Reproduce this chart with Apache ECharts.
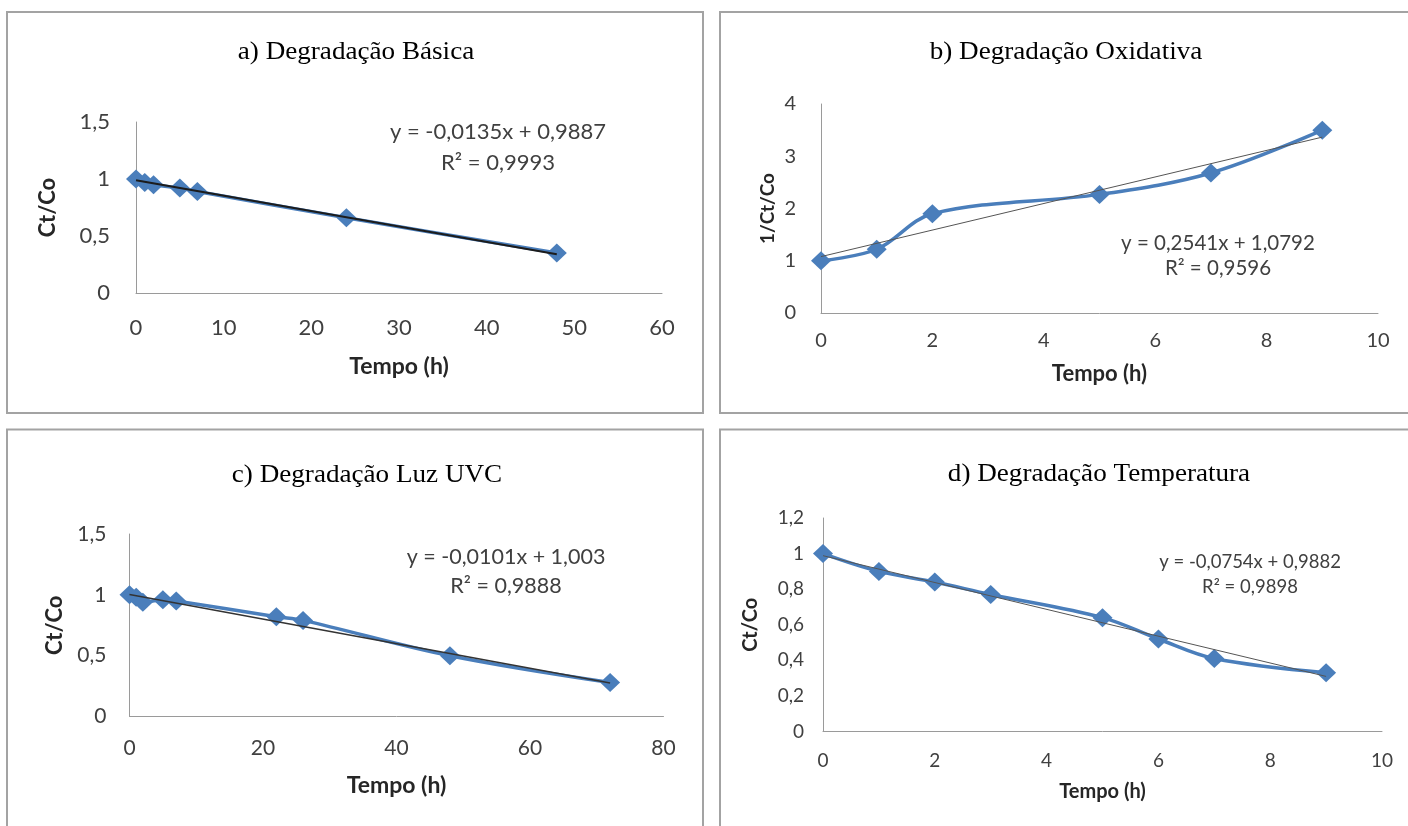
<!DOCTYPE html>
<html>
<head>
<meta charset="utf-8">
<script src="https://cdn.jsdelivr.net/npm/echarts@6/dist/echarts.min.js"></script>
<style>
  html, body { margin: 0; padding: 0; background: #fff; }
  #chart { width: 1408px; height: 826px; }
</style>
</head>
<body>
<div id="chart"></div>
<script>
// a) Degradação Básica
const tempoA = [0, 1, 2, 5, 7, 24, 48];
const ctcoA = [1.0, 0.97, 0.95, 0.92, 0.89, 0.66, 0.35];
// b) Degradação Oxidativa
const tempoB = [0, 1, 2, 5, 7, 9];
const invCtcoB = [1.0, 1.22, 1.9, 2.27, 2.68, 3.5];
// c) Degradação Luz UVC
const tempoC = [0, 1, 2, 5, 7, 22, 26, 48, 72];
const ctcoC = [1.0, 0.98, 0.94, 0.96, 0.95, 0.82, 0.79, 0.5, 0.28];
// d) Degradação Temperatura
const tempoD = [0, 1, 2, 3, 5, 6, 7, 9];
const ctcoD = [1.0, 0.9, 0.84, 0.77, 0.64, 0.52, 0.41, 0.33];

// linear trendlines (Excel)
const slopes = [-0.0135, 0.2541, -0.0101, -0.0754];
const intercepts = [0.9887, 1.0792, 1.003, 0.9882];
const equations = [
  'y = -0,0135x + 0,9887', 'y = 0,2541x + 1,0792',
  'y = -0,0101x + 1,003', 'y = -0,0754x + 0,9882'
];
const r2Labels = ['R² = 0,9993', 'R² = 0,9596', 'R² = 0,9888', 'R² = 0,9898'];
const titles = [
  'a) Degradação Básica', 'b) Degradação Oxidativa',
  'c) Degradação Luz UVC', 'd) Degradação Temperatura'
];
const yNames = ['Ct/Co', '1/Ct/Co', 'Ct/Co', 'Ct/Co'];

const xs = [tempoA, tempoB, tempoC, tempoD];
const ys = [ctcoA, invCtcoB, ctcoC, ctcoD];

// layout per panel
const grids = [
  { left: 136, top: 122, width: 526, height: 171 },
  { left: 821, top: 104, width: 557, height: 209 },
  { left: 129.5, top: 534, width: 534, height: 182.5 },
  { left: 823, top: 518, width: 559, height: 213.5 }
];
const xRange = [[0, 60, 10], [0, 10, 2], [0, 80, 20], [0, 10, 2]];
const yRange = [[0, 1.5, 0.5], [0, 4, 1], [0, 1.5, 0.5], [0, 1.2, 0.2]];
const tickSize = [22, 20, 21, 19];
const xNameSize = [23, 22, 23, 20];
const yNameSize = [22, 19, 22, 20];
const xNameGap = [62, 50, 58, 50];
const yNameGap = [77, 44, 64, 62];
const xLabelMargin = [24, 18, 21, 20];
const yLabelMargin = [26, 25, 23, 19];
const eqPos = [[498, 132, 163], [1218, 243, 268], [506, 557, 586], [1250, 562, 587]];
const eqSize = [22, 20.5, 21.5, 18.5];
const titlePos = [[356, 52], [1066, 52], [367, 475], [1099, 474]];
const trendStyle = [[2, '#1c1c1c'], [1, '#555'], [1.5, '#333'], [1, '#555']];

const fmt = v => String(Math.round(v * 10) / 10).replace('.', ',');
const sans = 'Lato';
const tickColor = '#404040';

const chart = echarts.init(document.getElementById('chart'));

const xAxis = [], yAxis = [], series = [], graphic = [];

// panel frames
const frames = [[7, 12, 696, 401], [720, 12, 700, 401], [7, 429.5, 696, 420], [720, 429.5, 700, 420]];
frames.forEach(f => {
  graphic.push({
    type: 'rect', shape: { x: f[0], y: f[1], width: f[2], height: f[3] },
    style: { fill: 'none', stroke: '#a3a3a3', lineWidth: 2 }, z: 0
  });
});

const centered = { align: 'center', verticalAlign: 'middle', textAlign: 'center', textVerticalAlign: 'middle' };

for (let i = 0; i < 4; i++) {
  xAxis.push({
    type: 'value', gridIndex: i,
    min: xRange[i][0], max: xRange[i][1], interval: xRange[i][2],
    name: 'Tempo (h)', nameLocation: 'middle', nameGap: xNameGap[i],
    nameTextStyle: { fontFamily: sans, fontWeight: 'bold', fontSize: xNameSize[i], color: '#262626' },
    axisLine: { show: true, lineStyle: { color: '#9a9a9a', width: 1 } },
    axisTick: { show: false },
    splitLine: { show: false },
    axisLabel: { fontFamily: sans, fontSize: tickSize[i], color: tickColor, margin: xLabelMargin[i], formatter: fmt }
  });
  yAxis.push({
    type: 'value', gridIndex: i,
    min: yRange[i][0], max: yRange[i][1], interval: yRange[i][2],
    name: yNames[i], nameLocation: 'middle', nameGap: yNameGap[i], nameRotate: 90,
    nameTextStyle: { fontFamily: sans, fontWeight: 'bold', fontSize: yNameSize[i], color: '#262626' },
    axisLine: { show: true, lineStyle: { color: '#9a9a9a', width: 1 } },
    axisTick: { show: false },
    splitLine: { show: false },
    axisLabel: { fontFamily: sans, fontSize: tickSize[i], color: tickColor, margin: yLabelMargin[i], formatter: fmt }
  });

  series.push({
    type: 'line', xAxisIndex: i, yAxisIndex: i,
    data: xs[i].map((x, k) => [x, ys[i][k]]),
    smooth: 0.35,
    symbol: 'diamond', symbolSize: [20, 19],
    itemStyle: { color: '#4a7ebb' },
    lineStyle: { color: '#4a7ebb', width: 3.5 },
    z: 2, silent: true
  });

  const x0 = Math.min(...xs[i]), x1 = Math.max(...xs[i]);
  series.push({
    type: 'line', xAxisIndex: i, yAxisIndex: i,
    data: [[x0, slopes[i] * x0 + intercepts[i]], [x1, slopes[i] * x1 + intercepts[i]]],
    showSymbol: false, symbol: 'none',
    lineStyle: { color: trendStyle[i][1], width: trendStyle[i][0] },
    z: 3, silent: true
  });

  graphic.push({
    type: 'text', x: titlePos[i][0], y: titlePos[i][1], z: 10, scaleX: 1.085,
    style: Object.assign({ text: titles[i], fontFamily: 'Liberation Serif', fontSize: 25, fill: '#000' }, centered)
  });
  graphic.push({
    type: 'text', x: eqPos[i][0], y: eqPos[i][1], z: 10,
    style: Object.assign({ text: equations[i], fontFamily: sans, fontSize: eqSize[i], fill: tickColor }, centered)
  });
  graphic.push({
    type: 'text', x: eqPos[i][0], y: eqPos[i][2], z: 10,
    style: Object.assign({ text: r2Labels[i], fontFamily: sans, fontSize: eqSize[i], fill: tickColor }, centered)
  });
}

const option = {
  backgroundColor: '#fff',
  animation: false,
  grid: grids.map(g => Object.assign({ containLabel: false }, g)),
  xAxis: xAxis,
  yAxis: yAxis,
  series: series,
  graphic: graphic
};

option && chart.setOption(option);
</script>
</body>
</html>
